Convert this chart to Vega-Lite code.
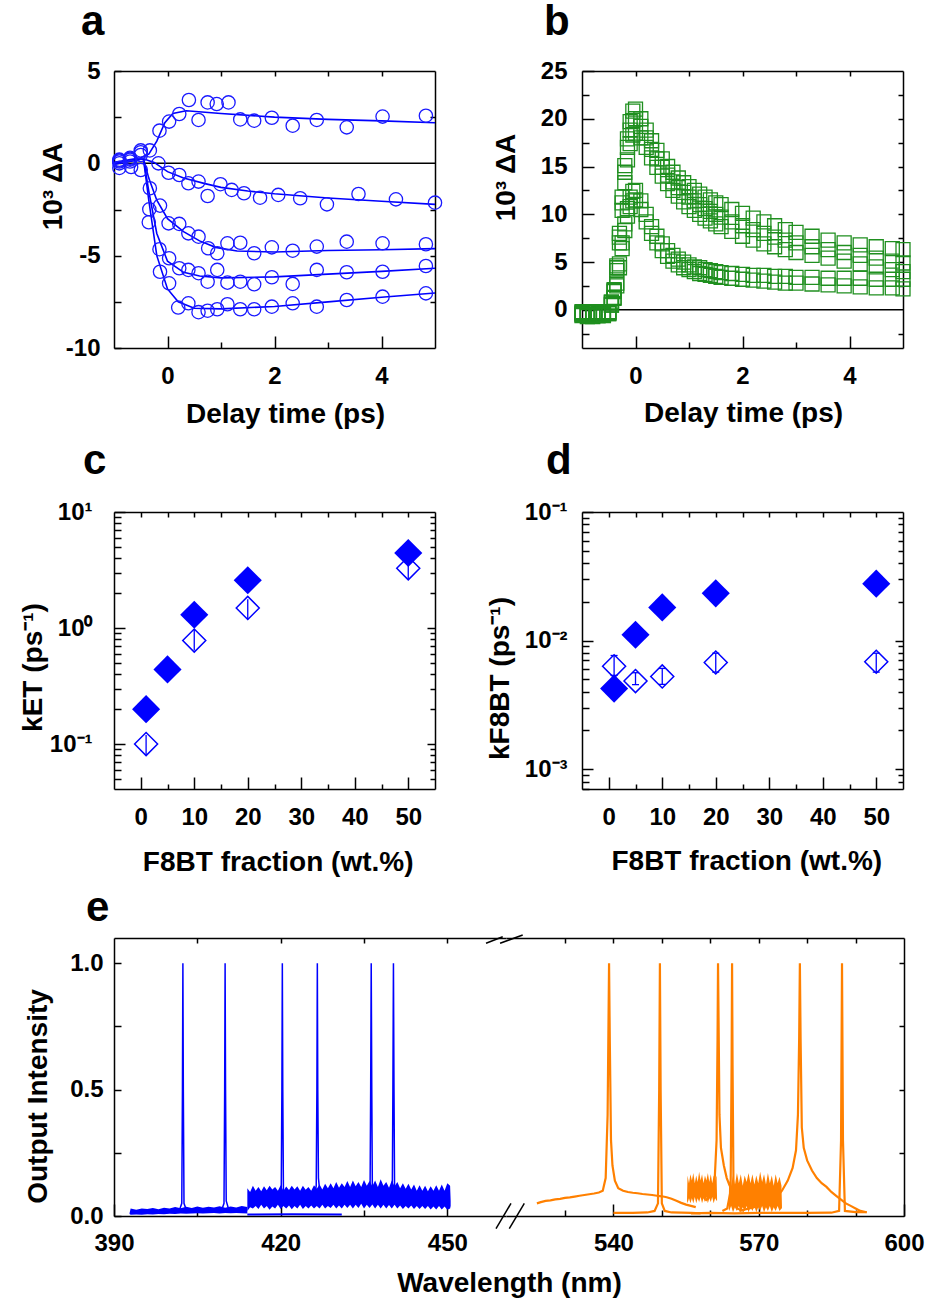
{
"$schema": "https://vega.github.io/schema/vega-lite/v6.json",
"background": "white",
"padding": {"left": 4, "top": 1, "right": 5, "bottom": 5},
"config": {
  "font": "Liberation Sans",
  "view": {"stroke": null},
  "axis": {"grid": false, "labelFont": "Liberation Sans", "labelFontSize": 24, "labelFontWeight": "bold", "labelColor": "#000", "labelFlush": false, "labelOverlap": false,
           "titleFont": "Liberation Sans", "titleFontSize": 28, "titleFontWeight": "bold", "titleColor": "#000",
           "domainColor": "#000", "domainWidth": 1.5, "tickColor": "#000", "tickWidth": 1.5},
  "title": {"font": "Liberation Sans", "fontSize": 42, "fontWeight": "bold", "color": "#000", "anchor": "start", "baseline": "alphabetic", "frame": "group"}
},
"datasets": {
"aPts": [
{"s":1,"t":-0.9,"v":0.2},{"s":1,"t":-0.7,"v":0.3},{"s":1,"t":-0.5,"v":0.7},{"s":1,"t":-0.33,"v":0.7},{"s":1,"t":-0.15,"v":1.77},{"s":1,"t":0.03,"v":2.26},{"s":1,"t":0.22,"v":2.67},{"s":1,"t":0.4,"v":3.43},{"s":1,"t":0.58,"v":2.35},{"s":1,"t":0.75,"v":3.3},{"s":1,"t":0.92,"v":3.21},{"s":1,"t":1.14,"v":3.3},{"s":1,"t":1.36,"v":2.38},{"s":1,"t":1.62,"v":2.31},{"s":1,"t":1.95,"v":2.47},{"s":1,"t":2.34,"v":2.04},{"s":1,"t":2.79,"v":2.35},{"s":1,"t":3.35,"v":1.95},{"s":1,"t":4.02,"v":2.53},{"s":1,"t":4.83,"v":2.58},
{"s":2,"t":-0.9,"v":-0.25},{"s":2,"t":-0.68,"v":-0.2},{"s":2,"t":-0.5,"v":-0.36},{"s":2,"t":-0.17,"v":0.0},{"s":2,"t":0.02,"v":-0.51},{"s":2,"t":0.22,"v":-0.63},{"s":2,"t":0.39,"v":-1.08},{"s":2,"t":0.58,"v":-0.99},{"s":2,"t":0.75,"v":-1.77},{"s":2,"t":0.99,"v":-1.13},{"s":2,"t":1.2,"v":-1.44},{"s":2,"t":1.43,"v":-1.62},{"s":2,"t":1.73,"v":-1.86},{"s":2,"t":2.07,"v":-1.71},{"s":2,"t":2.48,"v":-1.89},{"s":2,"t":2.98,"v":-2.22},{"s":2,"t":3.57,"v":-1.66},{"s":2,"t":4.27,"v":-1.95},{"s":2,"t":5.0,"v":-2.13},
{"s":3,"t":-0.9,"v":0.1},{"s":3,"t":-0.7,"v":0.25},{"s":3,"t":-0.5,"v":0.45},{"s":3,"t":-0.33,"v":-1.35},{"s":3,"t":-0.14,"v":-2.29},{"s":3,"t":0.02,"v":-3.25},{"s":3,"t":0.22,"v":-3.28},{"s":3,"t":0.39,"v":-3.79},{"s":3,"t":0.58,"v":-3.97},{"s":3,"t":0.76,"v":-4.6},{"s":3,"t":0.93,"v":-4.87},{"s":3,"t":1.12,"v":-4.33},{"s":3,"t":1.36,"v":-4.3},{"s":3,"t":1.62,"v":-4.87},{"s":3,"t":1.95,"v":-4.55},{"s":3,"t":2.34,"v":-4.73},{"s":3,"t":2.79,"v":-4.51},{"s":3,"t":3.35,"v":-4.24},{"s":3,"t":4.02,"v":-4.33},{"s":3,"t":4.83,"v":-4.38},
{"s":4,"t":-0.9,"v":0.0},{"s":4,"t":-0.7,"v":0.1},{"s":4,"t":-0.5,"v":0.6},{"s":4,"t":-0.34,"v":-2.49},{"s":4,"t":-0.15,"v":-4.65},{"s":4,"t":0.03,"v":-5.14},{"s":4,"t":0.22,"v":-5.68},{"s":4,"t":0.39,"v":-5.77},{"s":4,"t":0.58,"v":-5.95},{"s":4,"t":0.75,"v":-6.41},{"s":4,"t":0.93,"v":-5.77},{"s":4,"t":1.12,"v":-6.46},{"s":4,"t":1.36,"v":-6.41},{"s":4,"t":1.62,"v":-6.55},{"s":4,"t":1.95,"v":-6.17},{"s":4,"t":2.34,"v":-6.53},{"s":4,"t":2.79,"v":-5.77},{"s":4,"t":3.35,"v":-5.9},{"s":4,"t":4.02,"v":-5.87},{"s":4,"t":4.83,"v":-5.56},
{"s":5,"t":-0.9,"v":0.15},{"s":5,"t":-0.7,"v":0.2},{"s":5,"t":-0.35,"v":-3.19},{"s":5,"t":-0.14,"v":-5.87},{"s":5,"t":0.03,"v":-6.5},{"s":5,"t":0.2,"v":-7.81},{"s":5,"t":0.39,"v":-7.58},{"s":5,"t":0.58,"v":-8.06},{"s":5,"t":0.75,"v":-7.98},{"s":5,"t":0.93,"v":-7.9},{"s":5,"t":1.12,"v":-7.63},{"s":5,"t":1.36,"v":-7.9},{"s":5,"t":1.62,"v":-7.9},{"s":5,"t":1.95,"v":-7.76},{"s":5,"t":2.34,"v":-7.58},{"s":5,"t":2.79,"v":-7.76},{"s":5,"t":3.35,"v":-7.4},{"s":5,"t":4.02,"v":-7.22},{"s":5,"t":4.83,"v":-7.04}
],
"aFit": [
{"s":1,"t":-1,"v":0.05},{"s":1,"t":-0.5,"v":0.3},{"s":1,"t":-0.35,"v":0.5},{"s":1,"t":-0.2,"v":1.2},{"s":1,"t":-0.05,"v":2.2},{"s":1,"t":0.1,"v":2.7},{"s":1,"t":0.35,"v":2.85},{"s":1,"t":1,"v":2.7},{"s":1,"t":2,"v":2.5},{"s":1,"t":3,"v":2.38},{"s":1,"t":4,"v":2.3},{"s":1,"t":5,"v":2.2},
{"s":2,"t":-1,"v":0},{"s":2,"t":-0.45,"v":0.25},{"s":2,"t":-0.25,"v":0.05},{"s":2,"t":0,"v":-0.45},{"s":2,"t":0.3,"v":-0.8},{"s":2,"t":0.7,"v":-1.1},{"s":2,"t":1,"v":-1.3},{"s":2,"t":1.5,"v":-1.5},{"s":2,"t":2,"v":-1.65},{"s":2,"t":3,"v":-1.88},{"s":2,"t":4,"v":-2.05},{"s":2,"t":5,"v":-2.22},
{"s":3,"t":-1,"v":-0.05},{"s":3,"t":-0.45,"v":0.25},{"s":3,"t":-0.35,"v":-0.8},{"s":3,"t":-0.2,"v":-2},{"s":3,"t":0,"v":-3},{"s":3,"t":0.3,"v":-3.7},{"s":3,"t":0.6,"v":-4.2},{"s":3,"t":0.9,"v":-4.55},{"s":3,"t":1.3,"v":-4.75},{"s":3,"t":2,"v":-4.8},{"s":3,"t":3,"v":-4.72},{"s":3,"t":4,"v":-4.68},{"s":3,"t":5,"v":-4.62},
{"s":4,"t":-1,"v":-0.05},{"s":4,"t":-0.45,"v":0.25},{"s":4,"t":-0.35,"v":-1.5},{"s":4,"t":-0.2,"v":-3.8},{"s":4,"t":0,"v":-5.3},{"s":4,"t":0.3,"v":-5.9},{"s":4,"t":0.6,"v":-6.1},{"s":4,"t":1,"v":-6.2},{"s":4,"t":2,"v":-6.15},{"s":4,"t":3,"v":-6},{"s":4,"t":4,"v":-5.85},{"s":4,"t":5,"v":-5.68},
{"s":5,"t":-1,"v":0},{"s":5,"t":-0.45,"v":0.25},{"s":5,"t":-0.35,"v":-2},{"s":5,"t":-0.2,"v":-5},{"s":5,"t":0,"v":-6.8},{"s":5,"t":0.2,"v":-7.5},{"s":5,"t":0.5,"v":-7.85},{"s":5,"t":1,"v":-7.88},{"s":5,"t":2,"v":-7.75},{"s":5,"t":3,"v":-7.5},{"s":5,"t":4,"v":-7.25},{"s":5,"t":5,"v":-7.02}
],
"bData": [
{"s":"U1","t":-1,"v":-0.3},{"s":"U1","t":-0.9,"v":-0.5},{"s":"U1","t":-0.8,"v":-0.2},{"s":"U1","t":-0.7,"v":-0.6},{"s":"U1","t":-0.6,"v":-0.4},{"s":"U1","t":-0.5,"v":-0.3},{"s":"U1","t":-0.45,"v":0.8},{"s":"U1","t":-0.4,"v":2.1},{"s":"U1","t":-0.35,"v":4.6},{"s":"U1","t":-0.3,"v":8},{"s":"U1","t":-0.25,"v":11.8},{"s":"U1","t":-0.2,"v":15.1},{"s":"U1","t":-0.15,"v":17.9},{"s":"U1","t":-0.1,"v":19.7},{"s":"U1","t":-0.05,"v":20.8},{"s":"U1","t":0,"v":21},{"s":"U1","t":0.1,"v":20},{"s":"U1","t":0.2,"v":18.8},{"s":"U1","t":0.3,"v":17.7},{"s":"U1","t":0.4,"v":16.7},{"s":"U1","t":0.5,"v":15.8},{"s":"U1","t":0.6,"v":15},{"s":"U1","t":0.7,"v":14.4},{"s":"U1","t":0.8,"v":13.8},{"s":"U1","t":0.9,"v":13.3},{"s":"U1","t":1,"v":12.9},{"s":"U1","t":1.1,"v":12.5},{"s":"U1","t":1.2,"v":12.1},{"s":"U1","t":1.3,"v":11.8},{"s":"U1","t":1.4,"v":11.5},{"s":"U1","t":1.5,"v":11.2},{"s":"U1","t":1.6,"v":11},{"s":"U1","t":1.8,"v":10.5},{"s":"U1","t":2,"v":10.1},{"s":"U1","t":2.2,"v":9.6},{"s":"U1","t":2.4,"v":9.2},{"s":"U1","t":2.6,"v":8.8},{"s":"U1","t":2.8,"v":8.4},{"s":"U1","t":3,"v":8.1},{"s":"U1","t":3.3,"v":7.7},{"s":"U1","t":3.6,"v":7.3},{"s":"U1","t":3.9,"v":7},{"s":"U1","t":4.2,"v":6.8},{"s":"U1","t":4.5,"v":6.6},{"s":"U1","t":4.8,"v":6.4},{"s":"U1","t":5,"v":6.3},
{"s":"U2","t":-1,"v":-0.6},{"s":"U2","t":-0.9,"v":-0.2},{"s":"U2","t":-0.8,"v":-0.7},{"s":"U2","t":-0.7,"v":-0.4},{"s":"U2","t":-0.6,"v":-0.5},{"s":"U2","t":-0.5,"v":-0.2},{"s":"U2","t":-0.45,"v":0.8},{"s":"U2","t":-0.4,"v":2},{"s":"U2","t":-0.35,"v":4.4},{"s":"U2","t":-0.3,"v":7.6},{"s":"U2","t":-0.25,"v":11.2},{"s":"U2","t":-0.2,"v":14.4},{"s":"U2","t":-0.15,"v":17},{"s":"U2","t":-0.1,"v":18.8},{"s":"U2","t":-0.05,"v":19.8},{"s":"U2","t":0,"v":20},{"s":"U2","t":0.1,"v":19.2},{"s":"U2","t":0.2,"v":18},{"s":"U2","t":0.3,"v":16.8},{"s":"U2","t":0.4,"v":15.8},{"s":"U2","t":0.5,"v":14.9},{"s":"U2","t":0.6,"v":14.1},{"s":"U2","t":0.7,"v":13.4},{"s":"U2","t":0.8,"v":12.8},{"s":"U2","t":0.9,"v":12.3},{"s":"U2","t":1,"v":11.8},{"s":"U2","t":1.1,"v":11.4},{"s":"U2","t":1.2,"v":11},{"s":"U2","t":1.3,"v":10.6},{"s":"U2","t":1.4,"v":10.3},{"s":"U2","t":1.5,"v":10},{"s":"U2","t":1.6,"v":9.7},{"s":"U2","t":1.8,"v":9.2},{"s":"U2","t":2,"v":8.8},{"s":"U2","t":2.2,"v":8.4},{"s":"U2","t":2.4,"v":8},{"s":"U2","t":2.6,"v":7.6},{"s":"U2","t":2.8,"v":7.3},{"s":"U2","t":3,"v":7},{"s":"U2","t":3.3,"v":6.6},{"s":"U2","t":3.6,"v":6.3},{"s":"U2","t":3.9,"v":6},{"s":"U2","t":4.2,"v":5.7},{"s":"U2","t":4.5,"v":5.4},{"s":"U2","t":4.8,"v":5.1},{"s":"U2","t":5,"v":4.9},
{"s":"U3","t":-1,"v":-0.4},{"s":"U3","t":-0.9,"v":-0.7},{"s":"U3","t":-0.8,"v":-0.3},{"s":"U3","t":-0.7,"v":-0.5},{"s":"U3","t":-0.6,"v":-0.6},{"s":"U3","t":-0.5,"v":-0.4},{"s":"U3","t":-0.45,"v":0.7},{"s":"U3","t":-0.4,"v":1.9},{"s":"U3","t":-0.35,"v":4.1},{"s":"U3","t":-0.3,"v":7},{"s":"U3","t":-0.25,"v":10.4},{"s":"U3","t":-0.2,"v":13.3},{"s":"U3","t":-0.15,"v":15.7},{"s":"U3","t":-0.1,"v":17.4},{"s":"U3","t":-0.05,"v":18.3},{"s":"U3","t":0,"v":18.5},{"s":"U3","t":0.1,"v":18},{"s":"U3","t":0.2,"v":17},{"s":"U3","t":0.3,"v":15.9},{"s":"U3","t":0.4,"v":14.9},{"s":"U3","t":0.5,"v":14},{"s":"U3","t":0.6,"v":13.2},{"s":"U3","t":0.7,"v":12.5},{"s":"U3","t":0.8,"v":11.9},{"s":"U3","t":0.9,"v":11.3},{"s":"U3","t":1,"v":10.8},{"s":"U3","t":1.1,"v":10.4},{"s":"U3","t":1.2,"v":10},{"s":"U3","t":1.3,"v":9.6},{"s":"U3","t":1.4,"v":9.3},{"s":"U3","t":1.5,"v":9},{"s":"U3","t":1.6,"v":8.7},{"s":"U3","t":1.8,"v":8.2},{"s":"U3","t":2,"v":7.7},{"s":"U3","t":2.2,"v":7.3},{"s":"U3","t":2.4,"v":6.9},{"s":"U3","t":2.6,"v":6.6},{"s":"U3","t":2.8,"v":6.3},{"s":"U3","t":3,"v":6},{"s":"U3","t":3.3,"v":5.7},{"s":"U3","t":3.6,"v":5.4},{"s":"U3","t":3.9,"v":5.1},{"s":"U3","t":4.2,"v":4.8},{"s":"U3","t":4.5,"v":4.5},{"s":"U3","t":4.8,"v":4.2},{"s":"U3","t":5,"v":4},
{"s":"L1","t":-1,"v":-0.2},{"s":"L1","t":-0.9,"v":-0.5},{"s":"L1","t":-0.8,"v":-0.3},{"s":"L1","t":-0.7,"v":-0.6},{"s":"L1","t":-0.6,"v":-0.2},{"s":"L1","t":-0.5,"v":-0.4},{"s":"L1","t":-0.45,"v":0.5},{"s":"L1","t":-0.4,"v":1.3},{"s":"L1","t":-0.35,"v":2.8},{"s":"L1","t":-0.3,"v":4.8},{"s":"L1","t":-0.25,"v":7},{"s":"L1","t":-0.2,"v":9},{"s":"L1","t":-0.15,"v":10.6},{"s":"L1","t":-0.1,"v":11.8},{"s":"L1","t":-0.05,"v":12.4},{"s":"L1","t":0,"v":12.5},{"s":"L1","t":0.1,"v":11.4},{"s":"L1","t":0.2,"v":10},{"s":"L1","t":0.3,"v":8.7},{"s":"L1","t":0.4,"v":7.7},{"s":"L1","t":0.5,"v":6.9},{"s":"L1","t":0.6,"v":6.2},{"s":"L1","t":0.7,"v":5.7},{"s":"L1","t":0.8,"v":5.3},{"s":"L1","t":0.9,"v":5},{"s":"L1","t":1,"v":4.7},{"s":"L1","t":1.1,"v":4.5},{"s":"L1","t":1.2,"v":4.4},{"s":"L1","t":1.3,"v":4.2},{"s":"L1","t":1.4,"v":4.1},{"s":"L1","t":1.5,"v":4},{"s":"L1","t":1.6,"v":3.9},{"s":"L1","t":1.8,"v":3.8},{"s":"L1","t":2,"v":3.7},{"s":"L1","t":2.2,"v":3.6},{"s":"L1","t":2.4,"v":3.6},{"s":"L1","t":2.6,"v":3.5},{"s":"L1","t":2.8,"v":3.5},{"s":"L1","t":3,"v":3.4},{"s":"L1","t":3.3,"v":3.4},{"s":"L1","t":3.6,"v":3.3},{"s":"L1","t":3.9,"v":3.3},{"s":"L1","t":4.2,"v":3.3},{"s":"L1","t":4.5,"v":3.2},{"s":"L1","t":4.8,"v":3.2},{"s":"L1","t":5,"v":3.2},
{"s":"L2","t":-1,"v":-0.5},{"s":"L2","t":-0.9,"v":-0.3},{"s":"L2","t":-0.8,"v":-0.6},{"s":"L2","t":-0.7,"v":-0.3},{"s":"L2","t":-0.6,"v":-0.5},{"s":"L2","t":-0.5,"v":-0.3},{"s":"L2","t":-0.45,"v":0.5},{"s":"L2","t":-0.4,"v":1.2},{"s":"L2","t":-0.35,"v":2.5},{"s":"L2","t":-0.3,"v":4.4},{"s":"L2","t":-0.25,"v":6.4},{"s":"L2","t":-0.2,"v":8.3},{"s":"L2","t":-0.15,"v":9.8},{"s":"L2","t":-0.1,"v":10.8},{"s":"L2","t":-0.05,"v":11.4},{"s":"L2","t":0,"v":11.5},{"s":"L2","t":0.1,"v":10.5},{"s":"L2","t":0.2,"v":9.2},{"s":"L2","t":0.3,"v":8},{"s":"L2","t":0.4,"v":7},{"s":"L2","t":0.5,"v":6.2},{"s":"L2","t":0.6,"v":5.6},{"s":"L2","t":0.7,"v":5.1},{"s":"L2","t":0.8,"v":4.7},{"s":"L2","t":0.9,"v":4.4},{"s":"L2","t":1,"v":4.2},{"s":"L2","t":1.1,"v":4},{"s":"L2","t":1.2,"v":3.8},{"s":"L2","t":1.3,"v":3.7},{"s":"L2","t":1.4,"v":3.6},{"s":"L2","t":1.5,"v":3.5},{"s":"L2","t":1.6,"v":3.4},{"s":"L2","t":1.8,"v":3.3},{"s":"L2","t":2,"v":3.2},{"s":"L2","t":2.2,"v":3.1},{"s":"L2","t":2.4,"v":3},{"s":"L2","t":2.6,"v":2.9},{"s":"L2","t":2.8,"v":2.8},{"s":"L2","t":3,"v":2.8},{"s":"L2","t":3.3,"v":2.7},{"s":"L2","t":3.6,"v":2.6},{"s":"L2","t":3.9,"v":2.5},{"s":"L2","t":4.2,"v":2.4},{"s":"L2","t":4.5,"v":2.3},{"s":"L2","t":4.8,"v":2.3},{"s":"L2","t":5,"v":2.2}
],
"cFill": [{"t":1,"v":0.2},{"t":5,"v":0.44},{"t":10,"v":1.3},{"t":20,"v":2.58},{"t":50,"v":4.43}],
"cOpen": [{"t":1,"v":0.1,"lo":0.08,"hi":0.12},{"t":10,"v":0.78,"lo":0.64,"hi":0.96},{"t":20,"v":1.49,"lo":1.19,"hi":1.77},{"t":50,"v":3.27,"lo":2.63,"hi":3.69}],
"dFill": [{"t":1,"v":0.00423},{"t":5,"v":0.0111},{"t":10,"v":0.0181},{"t":20,"v":0.0233},{"t":50,"v":0.0277}],
"dOpen": [{"t":1,"v":0.0063,"lo":0.00536,"hi":0.00765},{"t":5,"v":0.00484,"lo":0.00454,"hi":0.00562},{"t":10,"v":0.00526,"lo":0.00456,"hi":0.00607},{"t":20,"v":0.00675,"lo":0.00568,"hi":0.00797},{"t":50,"v":0.00684,"lo":0.00568,"hi":0.00797}],
"eLBand": [
{"s":"l","x":392.8,"lo":0.008,"hi":0.012},{"s":"l","x":393,"lo":0.005,"hi":0.03},{"s":"l","x":394,"lo":0.006,"hi":0.025},{"s":"l","x":395,"lo":0.005,"hi":0.03},{"s":"l","x":396,"lo":0.007,"hi":0.028},{"s":"l","x":397,"lo":0.006,"hi":0.032},{"s":"l","x":398,"lo":0.008,"hi":0.027},{"s":"l","x":399,"lo":0.007,"hi":0.033},{"s":"l","x":400,"lo":0.009,"hi":0.03},{"s":"l","x":401,"lo":0.008,"hi":0.036},{"s":"l","x":402,"lo":0.01,"hi":0.031},{"s":"l","x":403,"lo":0.009,"hi":0.037},{"s":"l","x":404,"lo":0.01,"hi":0.032},{"s":"l","x":405,"lo":0.011,"hi":0.038},{"s":"l","x":406,"lo":0.01,"hi":0.033},{"s":"l","x":407,"lo":0.011,"hi":0.037},{"s":"l","x":408,"lo":0.012,"hi":0.034},{"s":"l","x":409,"lo":0.01,"hi":0.039},{"s":"l","x":410,"lo":0.012,"hi":0.033},{"s":"l","x":411,"lo":0.011,"hi":0.038},{"s":"l","x":412,"lo":0.012,"hi":0.034},{"s":"l","x":413,"lo":0.011,"hi":0.04},{"s":"l","x":414,"lo":0.01,"hi":0.036},
{"s":"z","x":414,"lo":0.002,"hi":0.01},{"s":"z","x":422,"lo":0.003,"hi":0.011},{"s":"z","x":431,"lo":0.002,"hi":0.01},
{"s":"h","x":414,"lo":0.02,"hi":0.11},{"s":"h","x":414.5,"lo":0.035,"hi":0.095},{"s":"h","x":415,"lo":0.03,"hi":0.12},{"s":"h","x":415.5,"lo":0.04,"hi":0.1},{"s":"h","x":416,"lo":0.028,"hi":0.115},{"s":"h","x":416.5,"lo":0.045,"hi":0.098},{"s":"h","x":417,"lo":0.03,"hi":0.118},{"s":"h","x":417.5,"lo":0.04,"hi":0.102},{"s":"h","x":418,"lo":0.025,"hi":0.12},{"s":"h","x":418.5,"lo":0.038,"hi":0.105},{"s":"h","x":419,"lo":0.03,"hi":0.115},{"s":"h","x":419.5,"lo":0.045,"hi":0.1},{"s":"h","x":420,"lo":0.028,"hi":0.122},{"s":"h","x":420.5,"lo":0.04,"hi":0.1},{"s":"h","x":421,"lo":0.03,"hi":0.117},{"s":"h","x":421.5,"lo":0.042,"hi":0.103},{"s":"h","x":422,"lo":0.027,"hi":0.12},{"s":"h","x":422.5,"lo":0.04,"hi":0.105},{"s":"h","x":423,"lo":0.03,"hi":0.118},{"s":"h","x":423.5,"lo":0.045,"hi":0.1},{"s":"h","x":424,"lo":0.028,"hi":0.12},{"s":"h","x":424.5,"lo":0.04,"hi":0.104},{"s":"h","x":425,"lo":0.03,"hi":0.115},{"s":"h","x":425.5,"lo":0.042,"hi":0.1},{"s":"h","x":426,"lo":0.03,"hi":0.122},{"s":"h","x":426.5,"lo":0.04,"hi":0.108},{"s":"h","x":427,"lo":0.03,"hi":0.125},{"s":"h","x":427.5,"lo":0.045,"hi":0.105},{"s":"h","x":428,"lo":0.03,"hi":0.128},{"s":"h","x":428.5,"lo":0.04,"hi":0.11},{"s":"h","x":429,"lo":0.032,"hi":0.13},{"s":"h","x":429.5,"lo":0.045,"hi":0.11},{"s":"h","x":430,"lo":0.03,"hi":0.135},{"s":"h","x":430.5,"lo":0.042,"hi":0.112},{"s":"h","x":431,"lo":0.03,"hi":0.13},{"s":"h","x":431.5,"lo":0.045,"hi":0.115},{"s":"h","x":432,"lo":0.032,"hi":0.138},{"s":"h","x":432.5,"lo":0.045,"hi":0.115},{"s":"h","x":433,"lo":0.03,"hi":0.14},{"s":"h","x":433.5,"lo":0.045,"hi":0.118},{"s":"h","x":434,"lo":0.032,"hi":0.135},{"s":"h","x":434.5,"lo":0.048,"hi":0.115},{"s":"h","x":435,"lo":0.03,"hi":0.142},{"s":"h","x":435.5,"lo":0.045,"hi":0.12},{"s":"h","x":436,"lo":0.032,"hi":0.138},{"s":"h","x":436.5,"lo":0.046,"hi":0.118},{"s":"h","x":437,"lo":0.03,"hi":0.14},{"s":"h","x":437.5,"lo":0.045,"hi":0.115},{"s":"h","x":438,"lo":0.03,"hi":0.145},{"s":"h","x":438.5,"lo":0.045,"hi":0.12},{"s":"h","x":439,"lo":0.03,"hi":0.135},{"s":"h","x":439.5,"lo":0.044,"hi":0.112},{"s":"h","x":440,"lo":0.03,"hi":0.14},{"s":"h","x":440.5,"lo":0.045,"hi":0.118},{"s":"h","x":441,"lo":0.03,"hi":0.135},{"s":"h","x":441.5,"lo":0.042,"hi":0.11},{"s":"h","x":442,"lo":0.028,"hi":0.13},{"s":"h","x":442.5,"lo":0.04,"hi":0.108},{"s":"h","x":443,"lo":0.03,"hi":0.128},{"s":"h","x":443.5,"lo":0.042,"hi":0.105},{"s":"h","x":444,"lo":0.028,"hi":0.125},{"s":"h","x":444.5,"lo":0.04,"hi":0.1},{"s":"h","x":445,"lo":0.028,"hi":0.122},{"s":"h","x":445.5,"lo":0.04,"hi":0.1},{"s":"h","x":446,"lo":0.028,"hi":0.12},{"s":"h","x":446.5,"lo":0.04,"hi":0.098},{"s":"h","x":447,"lo":0.026,"hi":0.118},{"s":"h","x":447.5,"lo":0.038,"hi":0.1},{"s":"h","x":448,"lo":0.026,"hi":0.122},{"s":"h","x":448.5,"lo":0.04,"hi":0.1},{"s":"h","x":449,"lo":0.026,"hi":0.125},{"s":"h","x":449.5,"lo":0.038,"hi":0.1},{"s":"h","x":450,"lo":0.025,"hi":0.13},{"s":"h","x":450.5,"lo":0.03,"hi":0.12},{"s":"h","x":450.6,"lo":0.04,"hi":0.06}
],
"eLLine": [
{"s":"p1","x":401.8,"y":0.025},{"s":"p1","x":402.2,"y":0.05},{"s":"p1","x":402.32,"y":0.5},{"s":"p1","x":402.4,"y":1},{"s":"p1","x":402.48,"y":0.5},{"s":"p1","x":402.6,"y":0.05},{"s":"p1","x":403,"y":0.025},
{"s":"p2","x":409.4,"y":0.025},{"s":"p2","x":409.8,"y":0.05},{"s":"p2","x":409.92,"y":0.5},{"s":"p2","x":410,"y":1},{"s":"p2","x":410.08,"y":0.5},{"s":"p2","x":410.2,"y":0.06},{"s":"p2","x":410.6,"y":0.03},
{"s":"p3","x":419.7,"y":0.06},{"s":"p3","x":420.1,"y":0.09},{"s":"p3","x":420.22,"y":0.5},{"s":"p3","x":420.3,"y":1},{"s":"p3","x":420.38,"y":0.5},{"s":"p3","x":420.5,"y":0.09},{"s":"p3","x":420.9,"y":0.06},
{"s":"p4","x":426,"y":0.06},{"s":"p4","x":426.4,"y":0.12},{"s":"p4","x":426.52,"y":0.5},{"s":"p4","x":426.6,"y":1},{"s":"p4","x":426.68,"y":0.5},{"s":"p4","x":426.8,"y":0.15},{"s":"p4","x":427.2,"y":0.06},
{"s":"p5","x":435.7,"y":0.07},{"s":"p5","x":436.1,"y":0.12},{"s":"p5","x":436.2,"y":0.5},{"s":"p5","x":436.3,"y":1},{"s":"p5","x":436.4,"y":0.5},{"s":"p5","x":436.5,"y":0.12},{"s":"p5","x":436.9,"y":0.07},
{"s":"p6","x":439.7,"y":0.07},{"s":"p6","x":440.1,"y":0.12},{"s":"p6","x":440.2,"y":0.5},{"s":"p6","x":440.3,"y":1},{"s":"p6","x":440.4,"y":0.5},{"s":"p6","x":440.5,"y":0.12},{"s":"p6","x":440.9,"y":0.07}
],
"eRBand": [
{"s":"b3","x":555.2,"lo":0.06,"hi":0.07},{"s":"b3","x":555.3,"lo":0.05,"hi":0.16},{"s":"b3","x":555.6,"lo":0.07,"hi":0.13},{"s":"b3","x":555.9,"lo":0.05,"hi":0.165},{"s":"b3","x":556.2,"lo":0.07,"hi":0.14},{"s":"b3","x":556.5,"lo":0.05,"hi":0.17},{"s":"b3","x":556.8,"lo":0.075,"hi":0.13},{"s":"b3","x":557.1,"lo":0.05,"hi":0.16},{"s":"b3","x":557.4,"lo":0.07,"hi":0.135},{"s":"b3","x":557.7,"lo":0.055,"hi":0.175},{"s":"b3","x":558,"lo":0.075,"hi":0.14},{"s":"b3","x":558.3,"lo":0.05,"hi":0.165},{"s":"b3","x":558.6,"lo":0.07,"hi":0.13},{"s":"b3","x":558.9,"lo":0.055,"hi":0.16},{"s":"b3","x":559.2,"lo":0.075,"hi":0.14},{"s":"b3","x":559.5,"lo":0.05,"hi":0.17},{"s":"b3","x":559.8,"lo":0.07,"hi":0.135},{"s":"b3","x":560.1,"lo":0.055,"hi":0.165},{"s":"b3","x":560.4,"lo":0.075,"hi":0.13},{"s":"b3","x":560.7,"lo":0.05,"hi":0.16},{"s":"b3","x":561,"lo":0.07,"hi":0.14},{"s":"b3","x":561.3,"lo":0.06,"hi":0.16},{"s":"b3","x":561.4,"lo":0.06,"hi":0.07},
{"s":"b4","x":563.8,"lo":0.03,"hi":0.04},{"s":"b4","x":563.9,"lo":0.02,"hi":0.14},{"s":"b4","x":564.3,"lo":0.04,"hi":0.12},{"s":"b4","x":564.7,"lo":0.015,"hi":0.16},{"s":"b4","x":565.1,"lo":0.035,"hi":0.125},{"s":"b4","x":565.5,"lo":0.02,"hi":0.17},{"s":"b4","x":565.9,"lo":0.04,"hi":0.13},{"s":"b4","x":566.3,"lo":0.015,"hi":0.165},{"s":"b4","x":566.7,"lo":0.035,"hi":0.12},{"s":"b4","x":567.1,"lo":0.02,"hi":0.16},{"s":"b4","x":567.5,"lo":0.04,"hi":0.135},{"s":"b4","x":567.9,"lo":0.015,"hi":0.17},{"s":"b4","x":568.3,"lo":0.035,"hi":0.13},{"s":"b4","x":568.7,"lo":0.02,"hi":0.165},{"s":"b4","x":569.1,"lo":0.04,"hi":0.125},{"s":"b4","x":569.5,"lo":0.015,"hi":0.16},{"s":"b4","x":569.9,"lo":0.035,"hi":0.13},{"s":"b4","x":570.3,"lo":0.02,"hi":0.175},{"s":"b4","x":570.7,"lo":0.04,"hi":0.135},{"s":"b4","x":571.1,"lo":0.015,"hi":0.165},{"s":"b4","x":571.5,"lo":0.035,"hi":0.125},{"s":"b4","x":571.9,"lo":0.02,"hi":0.17},{"s":"b4","x":572.3,"lo":0.04,"hi":0.13},{"s":"b4","x":572.7,"lo":0.015,"hi":0.16},{"s":"b4","x":573.1,"lo":0.035,"hi":0.12},{"s":"b4","x":573.5,"lo":0.02,"hi":0.165},{"s":"b4","x":573.9,"lo":0.04,"hi":0.13},{"s":"b4","x":574.3,"lo":0.02,"hi":0.155},{"s":"b4","x":574.7,"lo":0.03,"hi":0.12},{"s":"b4","x":574.8,"lo":0.03,"hi":0.04}
],
"eRLine": [
{"s":"o1","x":524.2,"y":0.05},{"s":"o1","x":525,"y":0.055},{"s":"o1","x":526,"y":0.06},{"s":"o1","x":527,"y":0.062},{"s":"o1","x":528,"y":0.066},{"s":"o1","x":529,"y":0.068},{"s":"o1","x":530,"y":0.072},{"s":"o1","x":531,"y":0.074},{"s":"o1","x":532,"y":0.077},{"s":"o1","x":533,"y":0.08},{"s":"o1","x":534,"y":0.083},{"s":"o1","x":535,"y":0.086},{"s":"o1","x":536,"y":0.089},{"s":"o1","x":537,"y":0.093},{"s":"o1","x":537.8,"y":0.1},{"s":"o1","x":538.4,"y":0.15},{"s":"o1","x":538.8,"y":0.4},{"s":"o1","x":539,"y":0.8},{"s":"o1","x":539.1,"y":1},{"s":"o1","x":539.25,"y":0.7},{"s":"o1","x":539.5,"y":0.3},{"s":"o1","x":539.8,"y":0.2},{"s":"o1","x":540.3,"y":0.14},{"s":"o1","x":541,"y":0.11},{"s":"o1","x":542,"y":0.1},{"s":"o1","x":543,"y":0.095},{"s":"o1","x":544,"y":0.092},{"s":"o1","x":545,"y":0.09},{"s":"o1","x":546,"y":0.087},{"s":"o1","x":547,"y":0.085},{"s":"o1","x":548,"y":0.083},{"s":"o1","x":549,"y":0.08},{"s":"o1","x":550,"y":0.078},{"s":"o1","x":551,"y":0.074},{"s":"o1","x":552,"y":0.068},{"s":"o1","x":553,"y":0.06},{"s":"o1","x":554,"y":0.052},{"s":"o1","x":555,"y":0.045},{"s":"o1","x":556,"y":0.04},{"s":"o1","x":557,"y":0.035},
{"s":"o2","x":540,"y":0.012},{"s":"o2","x":544,"y":0.012},{"s":"o2","x":547,"y":0.014},{"s":"o2","x":548.5,"y":0.02},{"s":"o2","x":549.2,"y":0.05},{"s":"o2","x":549.45,"y":0.5},{"s":"o2","x":549.6,"y":1},{"s":"o2","x":549.75,"y":0.5},{"s":"o2","x":550,"y":0.05},{"s":"o2","x":550.6,"y":0.02},{"s":"o2","x":552,"y":0.014},{"s":"o2","x":556,"y":0.012},{"s":"o2","x":558,"y":0.01},
{"s":"o3","x":559,"y":0.06},{"s":"o3","x":560.8,"y":0.1},{"s":"o3","x":561.3,"y":0.3},{"s":"o3","x":561.5,"y":0.7},{"s":"o3","x":561.6,"y":1},{"s":"o3","x":561.7,"y":0.8},{"s":"o3","x":561.9,"y":0.4},{"s":"o3","x":562.2,"y":0.27},{"s":"o3","x":562.8,"y":0.2},{"s":"o3","x":563.4,"y":0.15},{"s":"o3","x":564,"y":0.12},{"s":"o3","x":565,"y":0.1},{"s":"o3","x":566,"y":0.08},
{"s":"o4","x":562.5,"y":0.02},{"s":"o4","x":563.5,"y":0.03},{"s":"o4","x":564.2,"y":0.1},{"s":"o4","x":564.4,"y":0.6},{"s":"o4","x":564.5,"y":1},{"s":"o4","x":564.6,"y":0.6},{"s":"o4","x":564.8,"y":0.1},{"s":"o4","x":565.5,"y":0.03},{"s":"o4","x":567,"y":0.02},
{"s":"o5","x":566,"y":0.02},{"s":"o5","x":568,"y":0.03},{"s":"o5","x":570,"y":0.04},{"s":"o5","x":572,"y":0.055},{"s":"o5","x":573.5,"y":0.07},{"s":"o5","x":574.8,"y":0.1},{"s":"o5","x":576,"y":0.14},{"s":"o5","x":577,"y":0.19},{"s":"o5","x":577.7,"y":0.26},{"s":"o5","x":578.1,"y":0.4},{"s":"o5","x":578.35,"y":0.7},{"s":"o5","x":578.5,"y":1},{"s":"o5","x":578.65,"y":0.7},{"s":"o5","x":578.9,"y":0.35},{"s":"o5","x":579.3,"y":0.27},{"s":"o5","x":580,"y":0.22},{"s":"o5","x":581,"y":0.18},{"s":"o5","x":582,"y":0.15},{"s":"o5","x":583,"y":0.13},{"s":"o5","x":584,"y":0.115},{"s":"o5","x":585,"y":0.095},{"s":"o5","x":586,"y":0.08},{"s":"o5","x":587,"y":0.065},{"s":"o5","x":588,"y":0.05},{"s":"o5","x":589,"y":0.04},{"s":"o5","x":590,"y":0.03},{"s":"o5","x":591,"y":0.02},{"s":"o5","x":592.3,"y":0.015},
{"s":"o6","x":556,"y":0.01},{"s":"o6","x":560,"y":0.012},{"s":"o6","x":565,"y":0.01},{"s":"o6","x":570,"y":0.012},{"s":"o6","x":575,"y":0.012},{"s":"o6","x":580,"y":0.012},{"s":"o6","x":585,"y":0.013},{"s":"o6","x":586.6,"y":0.02},{"s":"o6","x":587,"y":0.3},{"s":"o6","x":587.2,"y":1},{"s":"o6","x":587.4,"y":0.3},{"s":"o6","x":587.8,"y":0.02},{"s":"o6","x":590,"y":0.015},{"s":"o6","x":592.3,"y":0.015}
],
"eBreak": [
{"x":515.76,"y":-0.05,"x2":518.85,"y2":0.05},{"x":518.5,"y":-0.05,"x2":521.6,"y2":0.05},
{"x":513.7,"y":1.079,"x2":517.14,"y2":1.105},{"x":516.6,"y":1.079,"x2":521.27,"y2":1.112}
]
},
"vconcat": [
{
 "hconcat": [
  {
   "width": 321, "height": 277,
   "title": {"text": "a", "dx": -33, "offset": 15},
   "layer": [
    {"data": {"values": [{"y": 0}]}, "mark": {"type": "rule", "color": "#000", "strokeWidth": 1.5},
     "encoding": {"y": {"field": "y", "type": "quantitative", "scale": {"domain": [-10, 5], "nice": false}, "axis": null}}},
    {"data": {"name": "aFit"}, "mark": {"type": "line", "color": "#0000ff", "strokeWidth": 1.6},
     "encoding": {
      "x": {"field": "t", "type": "quantitative", "scale": {"domain": [-1, 5], "nice": false},
            "axis": {"orient": "top", "values": [0, 1, 2, 3, 4], "labels": false, "tickSize": -5,
                     "title": ".", "titleOpacity": 0, "titleX": -110, "titleY": 50, "titleAngle": 0, "titleAlign": "left", "titleBaseline": "middle"}},
      "y": {"field": "v", "type": "quantitative", "scale": {"domain": [-10, 5], "nice": false},
            "axis": {"orient": "right", "values": [-7.5, -5, -2.5, 2.5], "labels": false, "tickSize": -5, "title": null}},
      "detail": {"field": "s", "type": "nominal"}}},
    {"data": {"name": "aPts"}, "mark": {"type": "point", "shape": "circle", "filled": false, "size": 177, "color": "#1a1aff", "strokeWidth": 1.3, "opacity": 1},
     "encoding": {
      "x": {"field": "t", "type": "quantitative", "scale": {"domain": [-1, 5], "nice": false},
            "axis": {"orient": "bottom", "values": [0, 1, 2, 3, 4], "labelExpr": "datum.value % 2 == 0 ? datum.label : ''",
                     "tickSize": {"condition": {"test": "datum.value % 2 == 0", "value": -12}, "value": -6}, "labelPadding": 28,
                     "title": "Delay time (ps)", "titleX": 171, "titleY": 74.9, "titleAlign": "center", "titleBaseline": "alphabetic"}},
      "y": {"field": "v", "type": "quantitative", "scale": {"domain": [-10, 5], "nice": false},
            "axis": {"orient": "left", "values": [-10, -7.5, -5, -2.5, 0, 2.5, 5], "labelExpr": "datum.value % 5 == 0 ? '' + datum.value : ''",
                     "tickSize": -7, "labelPadding": 21,
                     "title": "10³ ΔA", "titleX": -61, "titleY": 115, "titleAngle": 270, "titleAlign": "center", "titleBaseline": "middle"}}}}
   ],
   "resolve": {"axis": {"x": "independent", "y": "independent"}}
  },
  {
   "width": 321, "height": 277,
   "title": {"text": "b", "dx": -38, "offset": 15},
   "layer": [
    {"data": {"values": [{"y": 0}]}, "mark": {"type": "rule", "color": "#000", "strokeWidth": 1.5},
     "encoding": {"y": {"field": "y", "type": "quantitative", "scale": {"domain": [-4, 25], "nice": false}, "axis": null}}},
    {"data": {"name": "bData"}, "mark": {"type": "point", "shape": "square", "filled": false, "size": 196, "color": "#1f8f1f", "strokeWidth": 1.3, "opacity": 1},
     "encoding": {
      "x": {"field": "t", "type": "quantitative", "scale": {"domain": [-1, 5], "nice": false},
            "axis": {"orient": "bottom", "values": [0, 1, 2, 3, 4], "labelExpr": "datum.value % 2 == 0 ? datum.label : ''",
                     "tickSize": {"condition": {"test": "datum.value % 2 == 0", "value": -12}, "value": -6}, "labelPadding": 28,
                     "title": "Delay time (ps)", "titleX": 161, "titleY": 73.2, "titleAlign": "center", "titleBaseline": "alphabetic"}},
      "y": {"field": "v", "type": "quantitative", "scale": {"domain": [-4, 25], "nice": false},
            "axis": {"orient": "left", "values": [-2.5, 0, 2.5, 5, 7.5, 10, 12.5, 15, 17.5, 20, 22.5, 25], "labelExpr": "datum.value % 5 == 0 ? '' + datum.value : ''",
                     "tickSize": {"condition": {"test": "datum.value % 5 == 0", "value": -12}, "value": -7}, "labelPadding": 27,
                     "title": "10³ ΔA", "titleX": -76, "titleY": 106, "titleAngle": 270, "titleAlign": "center", "titleBaseline": "middle"}},
      "detail": {"field": "s", "type": "nominal"}}},
    {"data": {"name": "bData"}, "mark": {"type": "point", "opacity": 0},
     "encoding": {
      "x": {"field": "t", "type": "quantitative", "scale": {"domain": [-1, 5], "nice": false},
            "axis": {"orient": "top", "values": [0, 1, 2, 3, 4], "labels": false, "tickSize": -5, "title": null}},
      "y": {"field": "v", "type": "quantitative", "scale": {"domain": [-4, 25], "nice": false},
            "axis": {"orient": "right", "values": [-2.5, 2.5, 5, 7.5, 10, 12.5, 15, 17.5, 20, 22.5], "labels": false, "tickSize": -5, "title": null}}}}
   ],
   "resolve": {"axis": {"x": "independent", "y": "independent"}}
  }
 ],
 "spacing": 147, "bounds": "flush"
},
{
 "hconcat": [
  {
   "width": 321, "height": 277,
   "title": {"text": "c", "dx": -31, "offset": 17},
   "layer": [
    {"data": {"name": "cOpen"}, "mark": {"type": "rule", "color": "#0000ff", "strokeWidth": 1.3},
     "encoding": {
      "x": {"field": "t", "type": "quantitative", "scale": {"domain": [-5, 55], "nice": false}, "axis": null},
      "y": {"field": "lo", "type": "quantitative", "scale": {"type": "log", "domain": [0.041, 10], "nice": false}, "axis": null},
      "y2": {"field": "hi"}}},
    {"data": {"name": "cOpen"}, "mark": {"type": "point", "shape": "diamond", "filled": false, "size": 530, "color": "#0000ff", "strokeWidth": 1.5, "opacity": 1},
     "encoding": {
      "x": {"field": "t", "type": "quantitative", "scale": {"domain": [-5, 55], "nice": false},
            "axis": {"orient": "bottom", "values": [0, 5, 10, 15, 20, 25, 30, 35, 40, 45, 50], "labelExpr": "datum.value % 10 == 0 ? datum.label : ''",
                     "tickSize": {"condition": {"test": "datum.value % 10 == 0", "value": -12}, "value": -5}, "labelPadding": 28,
                     "title": "F8BT fraction (wt.%)", "titleX": 163.7, "titleY": 81, "titleAlign": "center", "titleBaseline": "alphabetic"}},
      "y": {"field": "v", "type": "quantitative", "scale": {"type": "log", "domain": [0.041, 10], "nice": false},
            "axis": {"orient": "left", "values": [0.05, 0.06, 0.07, 0.08, 0.09, 0.1, 0.2, 0.3, 0.4, 0.5, 0.6, 0.7, 0.8, 0.9, 1, 2, 3, 4, 5, 6, 7, 8, 9, 10],
                     "labelExpr": "datum.value == 10 ? '10¹' : datum.value == 1 ? '10⁰' : datum.value == 0.1 ? '10⁻¹' : ''",
                     "tickSize": {"condition": {"test": "datum.value == 0.1 || datum.value == 1 || datum.value == 10", "value": -11}, "value": -7}, "labelPadding": 33,
                     "title": "kET (ps⁻¹)", "titleX": -80.5, "titleY": 155, "titleAngle": 270, "titleAlign": "center", "titleBaseline": "middle"}}}},
    {"data": {"name": "cFill"}, "mark": {"type": "point", "shape": "diamond", "filled": true, "size": 790, "color": "#0000ff", "opacity": 1, "strokeWidth": 0},
     "encoding": {
      "x": {"field": "t", "type": "quantitative", "scale": {"domain": [-5, 55], "nice": false},
            "axis": {"orient": "top", "values": [0, 5, 10, 15, 20, 25, 30, 35, 40, 45, 50], "labels": false, "tickSize": -5,
                     "title": ".", "titleOpacity": 0, "titleX": -110, "titleY": 50, "titleAngle": 0, "titleAlign": "left", "titleBaseline": "middle"}},
      "y": {"field": "v", "type": "quantitative", "scale": {"type": "log", "domain": [0.041, 10], "nice": false},
            "axis": {"orient": "right", "values": [0.05, 0.06, 0.07, 0.08, 0.09, 0.1, 0.2, 0.3, 0.4, 0.5, 0.6, 0.7, 0.8, 0.9, 1, 2, 3, 4, 5, 6, 7, 8, 9], "labels": false,
                     "tickSize": {"condition": {"test": "datum.value == 0.1 || datum.value == 1", "value": -8}, "value": -5}, "title": null}}}}
   ],
   "resolve": {"axis": {"x": "independent", "y": "independent"}}
  },
  {
   "width": 321, "height": 277,
   "title": {"text": "d", "dx": -36, "offset": 17},
   "layer": [
    {"data": {"name": "dOpen"}, "mark": {"type": "rule", "color": "#0000ff", "strokeWidth": 1.3},
     "encoding": {
      "x": {"field": "t", "type": "quantitative", "scale": {"domain": [-5, 55], "nice": false}, "axis": null},
      "y": {"field": "lo", "type": "quantitative", "scale": {"type": "log", "domain": [0.0007, 0.1], "nice": false}, "axis": null},
      "y2": {"field": "hi"}}},
    {"data": {"name": "dOpen"}, "mark": {"type": "tick", "orient": "horizontal", "size": 7, "thickness": 1.3, "color": "#0000ff", "opacity": 1},
     "encoding": {
      "x": {"field": "t", "type": "quantitative", "scale": {"domain": [-5, 55], "nice": false}, "axis": null},
      "y": {"field": "lo", "type": "quantitative", "scale": {"type": "log", "domain": [0.0007, 0.1], "nice": false}, "axis": null}}},
    {"data": {"name": "dOpen"}, "mark": {"type": "tick", "orient": "horizontal", "size": 7, "thickness": 1.3, "color": "#0000ff", "opacity": 1},
     "encoding": {
      "x": {"field": "t", "type": "quantitative", "scale": {"domain": [-5, 55], "nice": false}, "axis": null},
      "y": {"field": "hi", "type": "quantitative", "scale": {"type": "log", "domain": [0.0007, 0.1], "nice": false}, "axis": null}}},
    {"data": {"name": "dOpen"}, "mark": {"type": "point", "shape": "diamond", "filled": false, "size": 530, "color": "#0000ff", "strokeWidth": 1.5, "opacity": 1},
     "encoding": {
      "x": {"field": "t", "type": "quantitative", "scale": {"domain": [-5, 55], "nice": false},
            "axis": {"orient": "bottom", "values": [0, 5, 10, 15, 20, 25, 30, 35, 40, 45, 50], "labelExpr": "datum.value % 10 == 0 ? datum.label : ''",
                     "tickSize": {"condition": {"test": "datum.value % 10 == 0", "value": -12}, "value": -5}, "labelPadding": 28,
                     "title": "F8BT fraction (wt.%)", "titleX": 164.3, "titleY": 80, "titleAlign": "center", "titleBaseline": "alphabetic"}},
      "y": {"field": "v", "type": "quantitative", "scale": {"type": "log", "domain": [0.0007, 0.1], "nice": false},
            "axis": {"orient": "left", "values": [0.0007, 0.0008, 0.0009, 0.001, 0.002, 0.003, 0.004, 0.005, 0.006, 0.007, 0.008, 0.009, 0.01, 0.02, 0.03, 0.04, 0.05, 0.06, 0.07, 0.08, 0.09, 0.1],
                     "labelExpr": "datum.value == 0.1 ? '10⁻¹' : datum.value == 0.01 ? '10⁻²' : datum.value == 0.001 ? '10⁻³' : ''",
                     "tickSize": {"condition": {"test": "datum.value == 0.1 || datum.value == 0.01 || datum.value == 0.001", "value": -11}, "value": -7}, "labelPadding": 26,
                     "title": "kF8BT (ps⁻¹)", "titleX": -82, "titleY": 166, "titleAngle": 270, "titleAlign": "center", "titleBaseline": "middle"}}}},
    {"data": {"name": "dFill"}, "mark": {"type": "point", "shape": "diamond", "filled": true, "size": 790, "color": "#0000ff", "opacity": 1, "strokeWidth": 0},
     "encoding": {
      "x": {"field": "t", "type": "quantitative", "scale": {"domain": [-5, 55], "nice": false},
            "axis": {"orient": "top", "values": [0, 5, 10, 15, 20, 25, 30, 35, 40, 45, 50], "labels": false, "tickSize": -5, "title": null}},
      "y": {"field": "v", "type": "quantitative", "scale": {"type": "log", "domain": [0.0007, 0.1], "nice": false},
            "axis": {"orient": "right", "values": [0.0008, 0.0009, 0.001, 0.002, 0.003, 0.004, 0.005, 0.006, 0.007, 0.008, 0.009, 0.01, 0.02, 0.03, 0.04, 0.05, 0.06, 0.07, 0.08, 0.09], "labels": false,
                     "tickSize": {"condition": {"test": "datum.value == 0.01 || datum.value == 0.001", "value": -8}, "value": -5}, "title": null}}}}
   ],
   "resolve": {"axis": {"x": "independent", "y": "independent"}}
  }
 ],
 "spacing": 147, "bounds": "flush"
},
{
 "hconcat": [
  {
   "width": 392, "height": 278,
   "title": {"text": "e", "dx": -28, "offset": 7},
   "layer": [
    {"data": {"name": "eLBand"}, "mark": {"type": "area", "color": "#0000ff", "opacity": 1, "interpolate": "linear"},
     "encoding": {
      "x": {"field": "x", "type": "quantitative", "scale": {"domain": [390, 460.56], "nice": false, "zero": false},
            "axis": {"orient": "bottom", "values": [390, 405, 420, 435, 450], "labelExpr": "datum.value % 30 == 0 ? datum.label : ''",
                     "tickSize": {"condition": {"test": "datum.value % 30 == 0", "value": -12}, "value": -6}, "labelPadding": 27,
                     "title": "Wavelength (nm)", "titleX": 395, "titleY": 75, "titleAlign": "center", "titleBaseline": "alphabetic"}},
      "y": {"field": "lo", "type": "quantitative", "scale": {"domain": [0, 1.1], "nice": false},
            "axis": {"orient": "left", "values": [0, 0.25, 0.5, 0.75, 1], "format": ".1f",
                     "labelExpr": "datum.value == 0 || datum.value == 0.5 || datum.value == 1 ? datum.label : ''",
                     "tickSize": -7, "labelPadding": 18,
                     "title": "Output Intensity", "titleX": -76, "titleY": 158, "titleAngle": 270, "titleAlign": "center", "titleBaseline": "middle"}},
      "y2": {"field": "hi"},
      "detail": {"field": "s", "type": "nominal"}}},
    {"data": {"name": "eLLine"}, "mark": {"type": "line", "color": "#0000ff", "strokeWidth": 1.5},
     "encoding": {
      "x": {"field": "x", "type": "quantitative", "scale": {"domain": [390, 460.56], "nice": false, "zero": false},
            "axis": {"orient": "top", "values": [405, 420, 435, 450], "labels": false, "tickSize": -5,
                     "title": ".", "titleOpacity": 0, "titleX": -110, "titleY": 50, "titleAngle": 0, "titleAlign": "left", "titleBaseline": "middle"}},
      "y": {"field": "y", "type": "quantitative", "scale": {"domain": [0, 1.1], "nice": false}, "axis": null},
      "detail": {"field": "s", "type": "nominal"}}}
   ],
   "resolve": {"axis": {"x": "independent", "y": "independent"}}
  },
  {
   "width": 398, "height": 278,
   "layer": [
    {"data": {"name": "eRBand"}, "mark": {"type": "area", "color": "#ff8000", "opacity": 1, "interpolate": "linear"},
     "encoding": {
      "x": {"field": "x", "type": "quantitative", "scale": {"domain": [517.82, 600], "nice": false, "zero": false},
            "axis": {"orient": "bottom", "values": [530, 540, 550, 560, 570, 580, 590, 600], "labelExpr": "datum.value % 30 == 0 ? datum.label : ''",
                     "tickSize": {"condition": {"test": "datum.value % 30 == 0", "value": -12}, "value": -6}, "labelPadding": 27, "title": null}},
      "y": {"field": "lo", "type": "quantitative", "scale": {"domain": [0, 1.1], "nice": false},
            "axis": {"orient": "right", "values": [0.25, 0.5, 0.75, 1], "labels": false, "tickSize": -5, "title": null}},
      "y2": {"field": "hi"},
      "detail": {"field": "s", "type": "nominal"}}},
    {"data": {"name": "eRLine"}, "mark": {"type": "line", "color": "#ff8000", "strokeWidth": 2.2},
     "encoding": {
      "x": {"field": "x", "type": "quantitative", "scale": {"domain": [517.82, 600], "nice": false, "zero": false},
            "axis": {"orient": "top", "values": [530, 540, 550, 560, 570, 580, 590], "labels": false, "tickSize": -5, "title": null}},
      "y": {"field": "y", "type": "quantitative", "scale": {"domain": [0, 1.1], "nice": false}, "axis": null},
      "detail": {"field": "s", "type": "nominal"}}},
    {"data": {"name": "eBreak"}, "mark": {"type": "rule", "color": "#000", "strokeWidth": 1.5},
     "encoding": {
      "x": {"field": "x", "type": "quantitative", "scale": {"domain": [517.82, 600], "nice": false, "zero": false}, "axis": null},
      "y": {"field": "y", "type": "quantitative", "scale": {"domain": [0, 1.1], "nice": false}, "axis": null},
      "x2": {"field": "x2"},
      "y2": {"field": "y2"}}}
   ],
   "resolve": {"axis": {"x": "independent", "y": "independent"}}
  }
 ],
 "spacing": 0, "bounds": "flush"
}
],
"spacing": 11
}
